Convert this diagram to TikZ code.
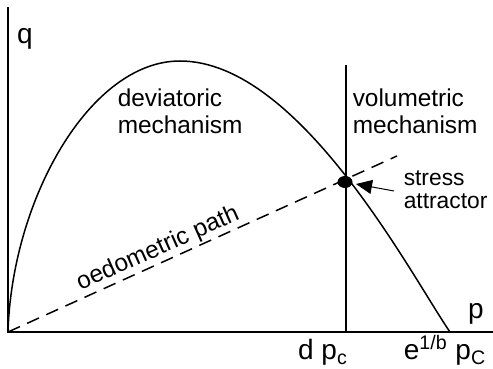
\documentclass[tikz,border=0pt]{standalone}
\usepackage{fontspec}
\setmainfont{Liberation Sans}
\usetikzlibrary{arrows.meta,shapes.geometric}
\tikzset{lbl/.style={inner sep=0pt,font=\fontsize{12.2}{13.5}\selectfont,align=left},
  axlbl/.style={inner sep=0pt,font=\fontsize{14}{16}\selectfont}}
\begin{document}
\begin{tikzpicture}[x=0.5pt,y=0.5pt,line width=0.75pt]
\useasboundingbox (0,0) rectangle (493,369);
\coordinate(o) at (8,37);
\coordinate(qtop) at (8,362);
\coordinate(pend) at (493,37);
\coordinate(vtop) at (346,304);
\coordinate(vbot) at (346,37);
\coordinate(oend) at (397,213);
\coordinate(atail) at (394,178);
\coordinate(top) at (180,308);
\coordinate(pe) at (450,37);
\draw(qtop) -- (o) -- (pend);
\draw(vtop) -- (vbot);
\draw[dash pattern=on 6.5pt off 4pt](o) -- (oend);
\draw(o) .. controls (12,170) and (90,308) .. (top) .. controls (300,308) and (412,92) .. (pe);
\node[fill,ellipse,minimum width=7.5pt,minimum height=6pt,inner sep=0pt](sa) at (345,187){};
\draw[-{Triangle[length=8pt,width=7pt]},line width=0.5pt,shorten >=1.5pt](atail) -- (sa);
\node[axlbl](q) at (25,330){q};
\node[axlbl](p) at (476,55){p};
\node[axlbl,anchor=base](dpc) at (323,9){d p\textsubscript{c}};
\node[axlbl,anchor=base](epc) at (445,9){e\textsuperscript{1/b} p\textsubscript{C}};
\node[lbl,anchor=west](dev) at (117,258){deviatoric\\mechanism};
\node[lbl,anchor=west](vol) at (352,258){volumetric\\mechanism};
\node[lbl,anchor=west,font=\fontsize{11.4}{11.7}\selectfont](att) at (403,179){stress\\attractor};
\node[lbl,rotate=24,font=\fontsize{12.2}{14}\selectfont](oed) at (158,120){oedometric path};
\end{tikzpicture}
\end{document}
